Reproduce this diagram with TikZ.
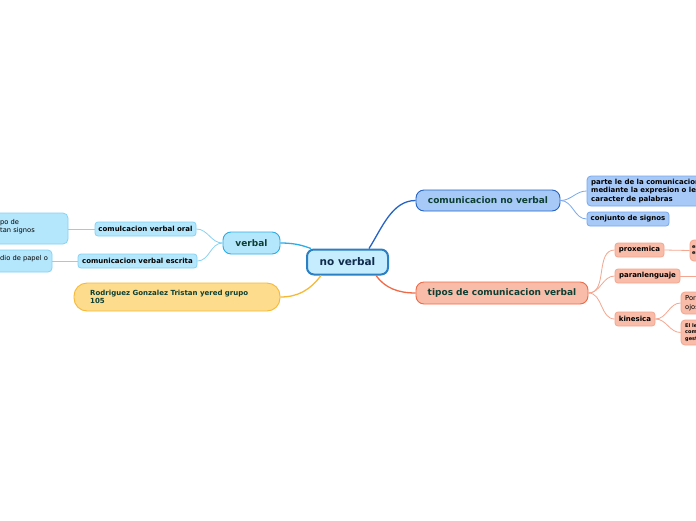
\documentclass[tikz,border=0pt]{standalone}
\usepackage{fontspec}
\setmainfont{DejaVu Sans}
\definecolor{cfill}{HTML}{C6EDFD}
\definecolor{cdraw}{HTML}{2B7FC3}
\definecolor{vfill}{HTML}{B5E7FC}
\definecolor{vdraw}{HTML}{2BADEA}
\definecolor{vsub}{HTML}{86D3F5}
\definecolor{yfill}{HTML}{FDDC8D}
\definecolor{ydraw}{HTML}{F6B935}
\definecolor{bfill}{HTML}{A6C9F8}
\definecolor{bdraw}{HTML}{2563C6}
\definecolor{bsub}{HTML}{78A8EE}
\definecolor{ofill}{HTML}{F8BCA9}
\definecolor{odraw}{HTML}{F06A47}
\definecolor{osub}{HTML}{F5A690}
\definecolor{tgreen}{HTML}{0E3F33}
\definecolor{tnavy}{HTML}{0F2B4D}
\tikzset{
  box/.style={inner sep=0pt, align=center},
  mainbox/.style={box, rounded corners=7pt, line width=2pt, draw=cdraw, fill=cfill, font=\fontsize{10.5}{12}\selectfont\bfseries, text=tnavy},
  lvlone/.style={box, rounded corners=8pt, line width=0.9pt, font=\fontsize{9}{10}\selectfont\bfseries, text=tgreen},
  lvltwo/.style={box, rounded corners=3pt, line width=0.8pt, font=\fontsize{7}{8}\selectfont\bfseries, text=black},
  plain/.style={inner sep=0pt, align=left, font=\fontsize{6.7}{8.4}\selectfont, text=black},
  tiny/.style={inner sep=0pt, align=left, font=\fontsize{5}{6.2}\selectfont\bfseries, text=black},
  conn/.style={line width=1.3pt},
  subconn/.style={line width=0.8pt},
}
\begin{document}
\begin{tikzpicture}[x=1pt,y=-1pt]
\useasboundingbox (0,0) rectangle (696,520);
\fill[white] (0,0) rectangle (696,520);
\clip (0,0) rectangle (696,520);

% central
\node[mainbox, minimum width=81pt, minimum height=25pt] (c) at (347.5,262) {no verbal};

% level one
\node[lvlone, draw=vdraw, fill=vfill, minimum width=57pt, minimum height=22pt] (v) at (251.5,243) {verbal};
\node[lvlone, draw=bdraw, fill=bfill, minimum width=144pt, minimum height=21pt] (nv) at (488,200.5) {comunicacion no verbal};
\node[lvlone, draw=odraw, fill=ofill, minimum width=172pt, minimum height=22pt] (t) at (502,293) {tipos de comunicacion verbal};
\node[box, rounded corners=13pt, line width=0.9pt, draw=ydraw, fill=yfill, minimum width=206pt, minimum height=28pt] (y) at (177,297) {};
\node[inner sep=0pt, anchor=west, align=left, font=\fontsize{7}{8.2}\selectfont\bfseries, text=tgreen] (yt) at (90,297) {Rodriguez Gonzalez Tristan yered grupo\\105};

% verbal branch
\node[lvltwo, draw=vsub, fill=vfill, minimum width=101pt, minimum height=14pt] (oral) at (145.5,229) {comulcacion verbal oral};
\node[lvltwo, draw=vsub, fill=vfill, minimum width=119pt, minimum height=14pt] (esc) at (137.5,261) {comunicacion verbal escrita};
\node[box, rounded corners=5pt, line width=0.8pt, draw=vsub, fill=vfill, minimum width=88pt, minimum height=31pt] (l1) at (24,228.5) {};
\node[plain, anchor=north west] (l1t) at (0,219) {po de\\tan signos};
\node[box, rounded corners=4pt, line width=0.8pt, draw=vsub, fill=vfill, minimum width=72pt, minimum height=22pt] (l2) at (16,261) {};
\node[plain, anchor=north west] (l2t) at (0,255.5) {dio de papel o};

% no verbal branch
\node[box, rounded corners=4pt, line width=0.8pt, draw=bsub, fill=bfill, minimum width=130pt, minimum height=30pt] (parte) at (652,191) {};
\node[inner sep=0pt, anchor=west, align=left, font=\fontsize{7}{8.4}\selectfont\bfseries, text=black] (partet) at (591,191) {parte le de la comunicacion\\mediante la expresion o le\\caracter de palabras};
\node[lvltwo, draw=bsub, fill=bfill, minimum width=82pt, minimum height=14pt] (conj) at (628,219) {conjunto de signos};

% tipos branch
\node[lvltwo, draw=osub, fill=ofill, minimum width=49pt, minimum height=14pt] (prox) at (639.5,250) {proxemica};
\node[lvltwo, draw=osub, fill=ofill, minimum width=65pt, minimum height=14pt] (para) at (647.5,276) {paranlenguaje};
\node[lvltwo, draw=osub, fill=ofill, minimum width=40pt, minimum height=14pt] (kin) at (635,319) {kinesica};
\node[box, rounded corners=4pt, line width=0.8pt, draw=osub, fill=ofill, minimum width=40pt, minimum height=21pt] (pb) at (710,250.5) {};
\node[tiny, anchor=west] (pbt) at (692,250.5) {es el\\espacio};
\coordinate (pe) at (700,276);
\node[box, rounded corners=4pt, line width=0.8pt, draw=osub, fill=ofill, minimum width=40pt, minimum height=22pt] (por) at (701,303) {};
\node[plain, anchor=west] (port) at (685,303) {Por medio\\ojos};
\node[box, rounded corners=4pt, line width=0.8pt, draw=osub, fill=ofill, minimum width=40pt, minimum height=25pt] (el) at (701,332.5) {};
\node[tiny, anchor=west] (elt) at (685,332.5) {El lenguaje\\comunica\\gestos};

% main connectors
\draw[conn, color=vdraw] (v.east) .. controls (296,243) and (304,246) .. ([xshift=5pt]c.north west);
\draw[conn, color=bdraw] ([xshift=-20pt]c.north east) .. controls (382,228) and (392,200.5) .. (nv.west);
\draw[conn, color=odraw] ([xshift=-13pt]c.south east) .. controls (385,288) and (398,293) .. (t.west);
\draw[conn, color=ydraw] ([xshift=15pt]c.south west) .. controls (310,290) and (298,297) .. (y.east);

% secondary connectors
\draw[subconn, color=vsub] (v.west) to[out=180,in=0] (oral.east);
\draw[subconn, color=vsub] (v.west) to[out=180,in=0] (esc.east);
\draw[subconn, color=vsub] (oral.west) -- (l1.east |- oral.west);
\draw[subconn, color=vsub] (esc.west) -- (l2.east |- esc.west);
\draw[subconn, color=bsub] (nv.east) to[out=0,in=180] (parte.west);
\draw[subconn, color=bsub] (nv.east) to[out=0,in=180] (conj.west);
\draw[subconn, color=osub] (t.east) to[out=0,in=180] (prox.west);
\draw[subconn, color=osub] (t.east) to[out=0,in=180] (para.west);
\draw[subconn, color=osub] (t.east) to[out=0,in=180] (kin.west);
\draw[subconn, color=osub] (prox.east) -- (pb.west);
\draw[subconn, color=osub] (para.east) -- (pe);
\draw[subconn, color=osub] (kin.east) to[out=0,in=180] (por.west);
\draw[subconn, color=osub] (kin.east) to[out=0,in=180] (el.west);
\end{tikzpicture}
\end{document}
